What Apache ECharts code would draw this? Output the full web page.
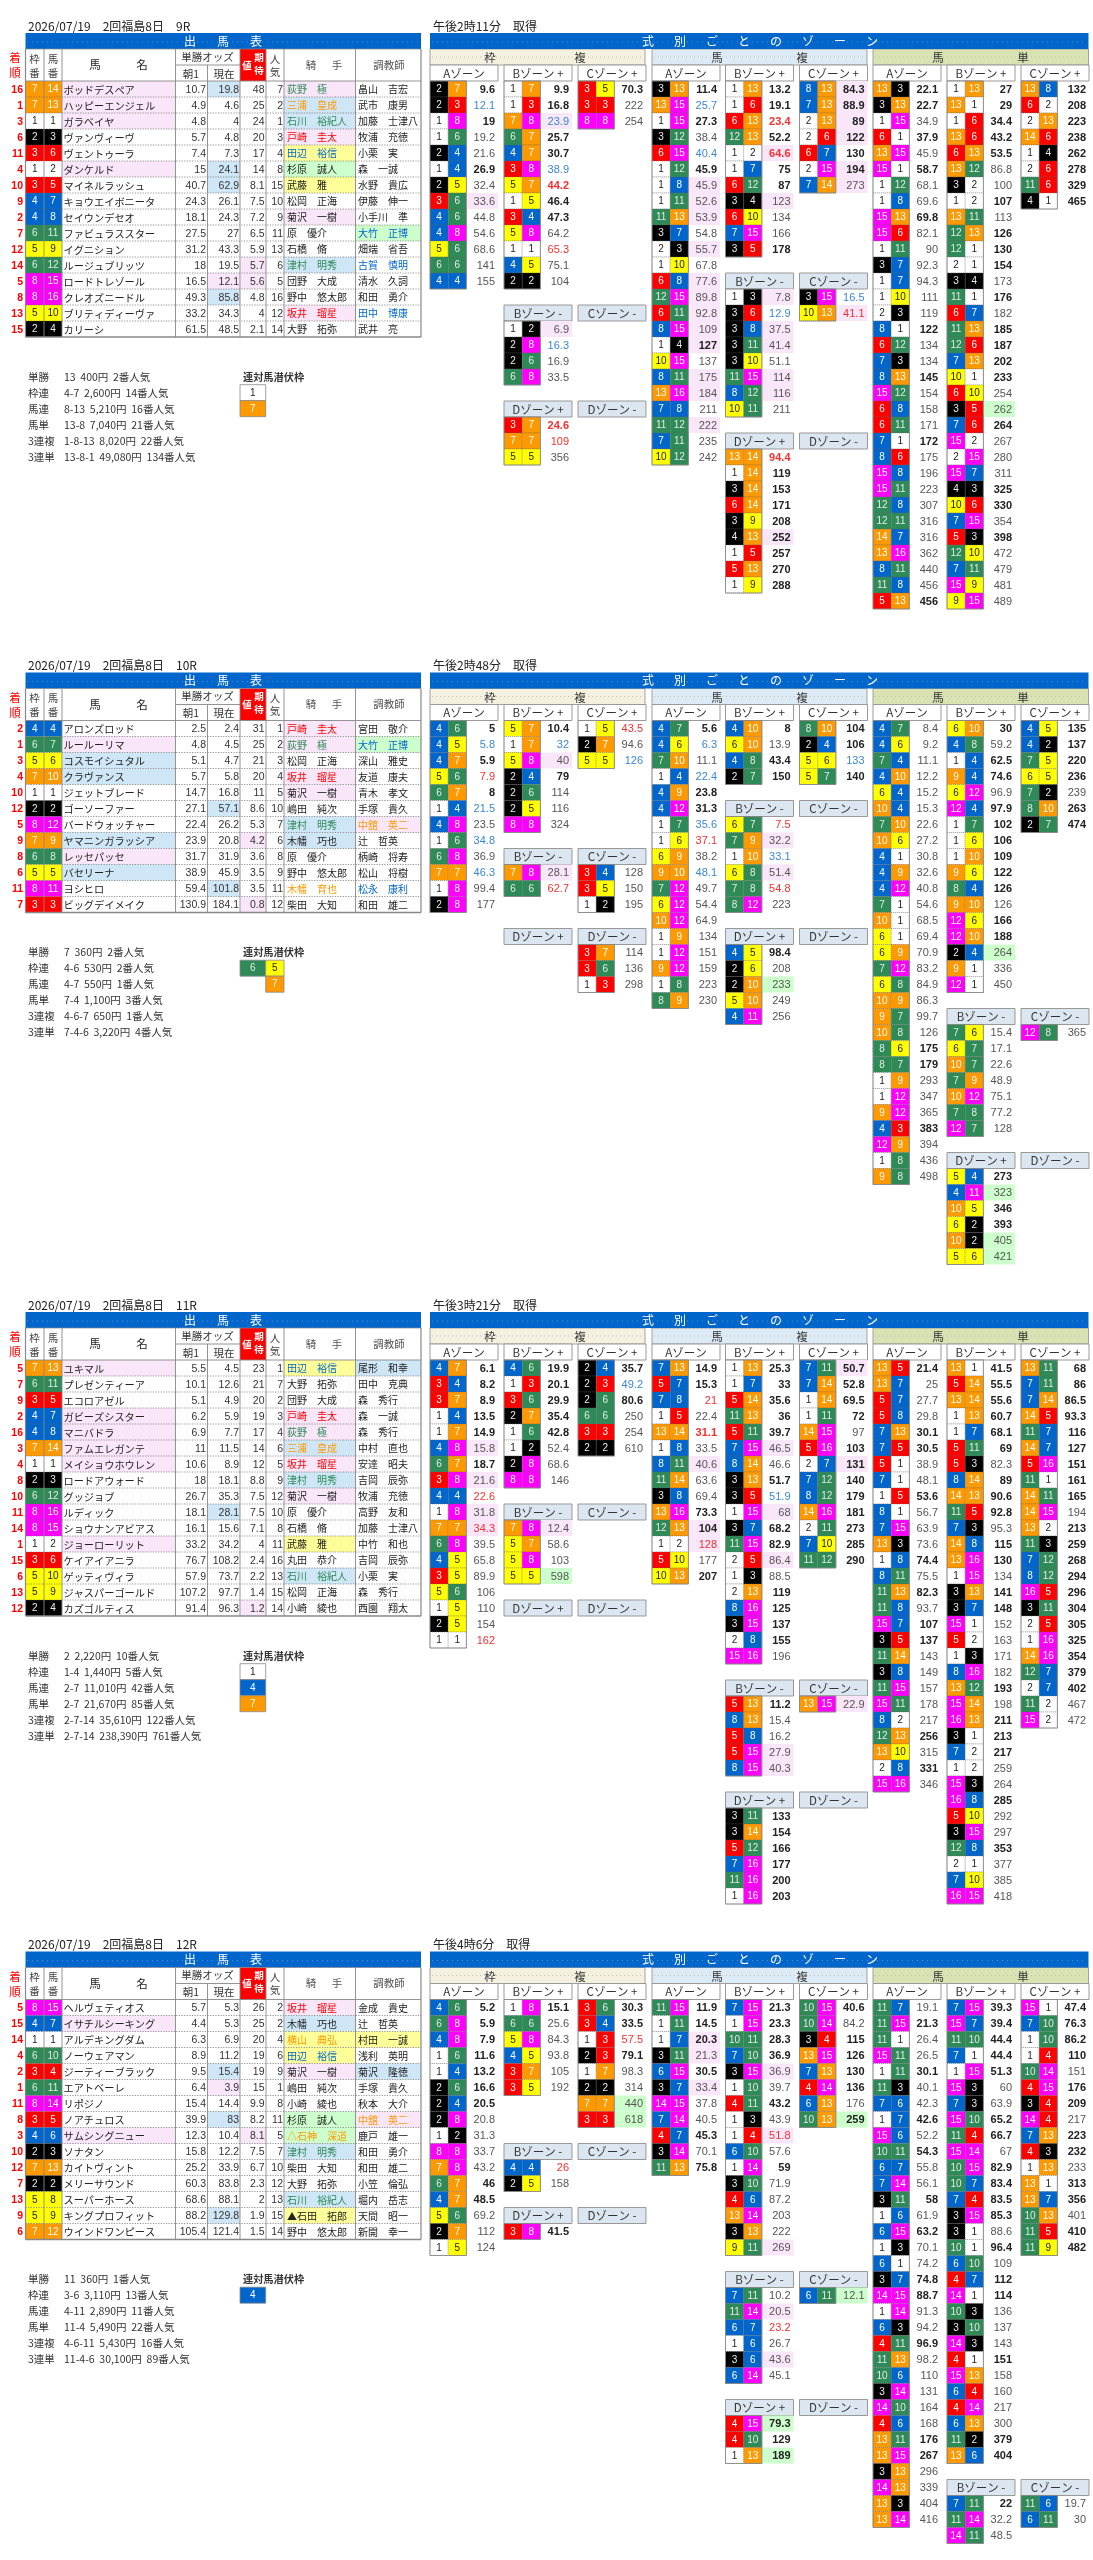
<!DOCTYPE html>
<html><head><meta charset="utf-8">
<style>html,body{margin:0;padding:0;background:#fff}#c{width:1093px;height:2560px;filter:blur(0.3px)}</style>
<script src="https://cdn.jsdelivr.net/npm/echarts@6/dist/echarts.min.js"></script>
</head><body><div id="c"></div>
<script>
// ---------- race titles ----------
const raceTitles=["2026/07/19　2回福島8日　9R","2026/07/19　2回福島8日　10R","2026/07/19　2回福島8日　11R","2026/07/19　2回福島8日　12R"];
const fetchTimes=["午後2時11分　取得","午後2時48分　取得","午後3時21分　取得","午後4時6分　取得"];
// ---------- entry tables: rank|frame|horse|name|nameClass|morning|now|nowClass|expect|expectClass|pop|jockey|jockeyInk|jockeyClass|trainer|trainerInk|trainerClass
const r1Rows=[
"16|7|14|ボッドデスペア|p|10.7|19.8|s|48||7|荻野 極|g|p|畠山 吉宏||",
"1|7|13|ハッピーエンジェル|p|4.9|4.6||25||2|三浦 皇成|o|s|武市 康男||",
"3|1|1|ガラベイヤ|p|4.8|4||24||1|石川 裕紀人|g|s|加藤 士津八||",
"6|2|3|ヴァンヴィーヴ||5.7|4.8||20||3|戸崎 圭太|r|p|牧浦 充徳||",
"11|3|6|ヴェントゥーラ||7.4|7.3||17||4|田辺 裕信|b|y|小栗 実||",
"4|1|2|ダンケルド|p|15|24.1|s|14||8|杉原 誠人||g|森 一誠||",
"10|3|5|マイネルラッシュ||40.7|62.9|s|8.1||15|武藤 雅||y|水野 貴広||",
"9|4|7|キョウエイボニータ||24.3|26.1||7.5||10|松岡 正海|||伊藤 伸一||",
"2|4|8|セイウンデセオ||18.1|24.3||7.2||9|菊沢 一樹||p|小手川 準||",
"7|6|11|ファビュラススター||27.5|27||6.5||11|原 優介|||大竹 正博|b|g",
"12|5|9|イグニション||31.2|43.3||5.9||13|石橋 脩|||畑端 省吾||",
"14|6|12|ルージュブリッツ||18|19.5||5.7|p|6|津村 明秀|g|s|古賀 慎明|b|",
"5|8|15|ロードトレゾール||16.5|12.1|p|5.6|p|5|団野 大成|||清水 久詞||",
"8|8|16|クレオズニードル||49.3|85.8|s|4.8||16|野中 悠太郎|||和田 勇介||",
"13|5|10|ブリティディーヴァ||33.2|34.3||4||12|坂井 瑠星|r|p|田中 博康|b|",
"15|2|4|カリーシ||61.5|48.5||2.1||14|大野 拓弥|||武井 亮||"];
const r2Rows=[
"2|4|4|アロンズロッド||2.5|2.4||31||1|戸崎 圭太|r|p|宮田 敬介||",
"1|6|7|ルールーリマ|p|4.8|4.5||25||2|荻野 極|g|p|大竹 正博|b|g",
"3|5|6|コスモイシュタル|s|5.1|4.7||21||3|松岡 正海|||深山 雅史||",
"4|7|10|クラヴァンス|s|5.7|5.8||20||4|坂井 瑠星|r|p|友道 康夫||",
"10|1|1|ジェットブレード||14.7|16.8||11||5|菊沢 一樹||p|青木 孝文||",
"12|2|2|ゴーソーファー||27.1|57.1|s|8.6||10|嶋田 純次|||手塚 貴久||",
"5|8|12|バードウォッチャー||22.4|26.2||5.3||7|津村 明秀|g|s|中舘 英二|o|p",
"9|7|9|ヤマニンガラッシア|s|23.9|20.8||4.2|p|6|木幡 巧也||s|辻 哲英||",
"8|6|8|レッセパッセ|p|31.7|31.9||3.6||8|原 優介|||柄崎 将寿||",
"6|5|5|バセリーナ|s|38.9|45.9||3.5||9|野中 悠太郎|||松山 将樹||",
"11|8|11|ヨシヒロ||59.4|101.8|s|3.5||11|木幡 育也|o||松永 康利|b|",
"7|3|3|ビッグデイメイク||130.9|184.1||0.8|p|12|柴田 大知|||和田 雄二||"];
const r3Rows=[
"5|7|13|ユキマル|p|5.5|4.5||23||1|田辺 裕信|b|y|尾形 和幸||s",
"7|6|11|プレゼンティーア||10.1|12.6||21||7|大野 拓弥|||田中 克典||",
"9|3|5|エコロアゼル||5.1|4.9||20||2|団野 大成|||森 秀行||",
"2|4|7|ガビーズシスター|p|6.2|5.9||19||3|戸崎 圭太|r|p|森 一誠||",
"16|4|8|マニバドラ|p|6.9|7.7||17||4|荻野 極|g|p|森 秀行||",
"3|7|14|ファムエレガンテ|p|11|11.5||14||6|三浦 皇成|o|s|中村 直也||",
"4|1|1|メイショウホウレン|p|10.6|8.9||12||5|坂井 瑠星|r|p|安達 昭夫||",
"8|2|3|ロードアウォード||18|18.1||8.8||9|津村 明秀|g|s|吉岡 辰弥||",
"10|6|12|グッジョブ||26.7|35.3||7.5||12|菊沢 一樹||p|牧浦 充徳||",
"11|8|16|ルディック||18.1|28.1|s|7.5||10|原 優介|||高野 友和||",
"14|8|15|ショウナンアビアス||16.1|15.6||7.1||8|石橋 脩|||加藤 士津八||",
"1|1|2|ジョーローリット|p|33.2|34.2||4||11|武藤 雅||y|中竹 和也||",
"15|3|6|ケイアイアニラ||76.7|108.2||2.4||16|丸田 恭介|||吉岡 辰弥||",
"6|5|10|ゲッティヴィラ||57.9|73.7||2.2||13|石川 裕紀人|g|s|小栗 実||",
"13|5|9|ジャスパーゴールド||107.2|97.7||1.4||15|松岡 正海|||森 秀行||",
"12|2|4|カズゴルティス||91.4|96.3||1.2|p|14|小崎 綾也|||西園 翔太||"];
const r4Rows=[
"5|8|15|ヘルヴェティオス||5.7|5.3||26||2|坂井 瑠星|r|p|金成 貴史||",
"15|4|7|イサチルシーキング|p|4.4|5.3||25||2|木幡 巧也||s|辻 哲英||",
"14|1|1|アルデキングダム||6.3|6.9||20||4|横山 典弘|o|y|村田 一誠||y",
"4|6|10|ノーウェアマン||8.9|11.2||19||6|田辺 裕信|b|y|浅利 英明||",
"2|3|4|ジーティーブラック||9.5|15.4|s|19||9|菊沢 一樹||p|菊沢 隆徳||s",
"1|6|11|エアトベーレ||6.4|3.9|p|15||1|嶋田 純次|||手塚 貴久||",
"11|8|14|リポジノ||15.4|14.4||9.9||8|小崎 綾也|||秋本 大介||",
"8|3|5|ノアチュロス||39.9|83|s|8.2||11|杉原 誠人||g|中舘 英二|o|p",
"3|4|6|サムシングニュー|p|12.3|10.4||8.1|p|5|△石神 深道|o|g|鹿戸 雄一||",
"10|2|3|ソナタン||15.8|12.2||7.5||7|津村 明秀|g|s|和田 勇介||",
"12|7|13|カイトヴィント||25.2|33.9||6.7||10|柴田 大知|||和田 雄二||",
"7|2|2|メリーサウンド||60.3|83.8||2.3||12|大野 拓弥|||小笠 倫弘||",
"13|5|8|スーパーホース||68.6|88.1||2||13|石川 裕紀人|g|s|堀内 岳志||",
"9|5|9|キングプロフィット||88.2|129.8|s|1.9||15|▲石田 拓郎||y|天間 昭一||",
"6|7|12|ウインドワンピース||105.4|121.4||1.5||14|野中 悠太郎|||新開 幸一||"];
// ---------- payouts ----------
const r1Pay=["単勝|13  400円  2番人気","枠連|4-7  2,600円  14番人気","馬連|8-13  5,210円  16番人気","馬単|13-8  7,040円  21番人気","3連複|1-8-13  8,020円  22番人気","3連単|13-8-1  49,080円  134番人気"];
const r2Pay=["単勝|7  360円  2番人気","枠連|4-6  530円  2番人気","馬連|4-7  550円  1番人気","馬単|7-4  1,100円  3番人気","3連複|4-6-7  650円  1番人気","3連単|7-4-6  3,220円  4番人気"];
const r3Pay=["単勝|2  2,220円  10番人気","枠連|1-4  1,440円  5番人気","馬連|2-7  11,010円  42番人気","馬単|2-7  21,670円  85番人気","3連複|2-7-14  35,610円  122番人気","3連単|2-7-14  238,390円  761番人気"];
const r4Pay=["単勝|11  360円  1番人気","枠連|3-6  3,110円  13番人気","馬連|4-11  2,890円  11番人気","馬単|11-4  5,490円  22番人気","3連複|4-6-11  5,430円  16番人気","3連単|11-4-6  30,100円  89番人気"];
// frames that may hide a placed horse: rows of [left, right]
const r1Hidden=[[1,0],[7,0]];
const r2Hidden=[[6,5],[0,7]];
const r3Hidden=[[1,0],[4,0],[7,0]];
const r4Hidden=[[4,0]];
// ---------- zones: "a-b value class"  b strong, l low, r alert, p/g marked
const none=[];
const r1FA=["2-7 9.6 b","2-3 12.1 l","1-8 19 b","1-6 19.2","2-4 21.6","1-4 26.9 b","2-5 32.4","3-6 33.6 p","4-6 44.8","4-8 54.6","5-6 68.6","6-6 141","4-4 155"];
const r1FB=["1-7 9.9 b","1-3 16.8 b","7-8 23.9 lp","6-7 25.7 b","4-7 30.7 b","3-8 38.9 l","5-7 44.2 rb","1-5 46.4 b","3-4 47.3 b","5-8 64.2","1-1 65.3 r","4-5 75.1","2-2 104"];
const r1FC=["3-5 70.3 b","3-3 222","8-8 254"];
const r1FBm=["1-2 6.9 p","2-8 16.3 l","2-6 16.9","6-8 33.5"];
const r1FDp=["3-7 24.6 rb","7-7 109 r","5-5 356"];
const r1QA=["3-13 11.4 b","13-15 25.7 l","1-15 27.3 b","3-12 38.4","6-15 40.4 l","1-12 45.9 b","1-8 45.9 p","1-11 52.6 p","11-13 53.9 p","3-7 54.8","2-3 55.7 p","1-10 67.8","6-8 77.6 p","12-15 89.8 p","6-11 92.8 p","8-15 109 p","1-4 127 bp","10-15 137","8-11 175 p","13-16 184 p","7-8 211","11-12 222 p","7-11 235","10-12 242"];
const r1QB=["1-13 13.2 b","1-6 19.1 b","6-13 23.4 rb","12-13 52.2 b","1-2 64.6 rbp","1-7 75 b","6-12 87 b","3-4 123 p","6-10 134","7-15 166","3-5 178 b"];
const r1QC=["8-13 84.3 bp","7-13 88.9 bp","2-13 89 bp","2-6 122 bp","6-7 130 b","2-15 194 bp","7-14 273 p"];
const r1QBm=["1-3 7.8 p","3-6 12.9 l","3-8 37.5 p","3-11 41.4 p","3-10 51.1","11-15 114 p","8-12 116 p","10-11 211"];
const r1QCm=["3-15 16.5 l","10-13 41.1 rp"];
const r1QDp=["13-14 94.4 rb","1-14 119 b","3-14 153 b","6-14 171 b","3-9 208 b","4-13 252 bp","1-5 257 b","5-13 270 b","1-9 288 b"];
const r1EA=["13-3 22.1 b","3-13 22.7 b","1-15 34.9","6-1 37.9 b","13-15 45.9","15-1 58.7 b","1-12 68.1","1-8 69.6","15-13 69.8 b","15-6 82.1","1-11 90","3-7 92.3","1-7 94.3","1-10 111","2-3 119","8-1 122 b","6-12 134","7-3 134","8-13 145 b","15-12 154","6-8 158","6-11 171","7-1 172 b","8-6 175","15-8 196","15-11 223","12-8 307","12-11 316","14-7 316","13-16 362","8-11 440","11-8 456","5-13 456 b"];
const r1EB=["1-13 27 b","13-1 29 b","1-6 34.4 b","13-6 43.2 b","6-13 53.5 b","13-12 86.8","3-2 100","1-2 107 b","13-11 113","12-13 126 b","12-1 130 b","2-1 154 b","3-4 173","11-1 176 b","6-7 182","11-13 185 b","12-6 187 b","7-13 202 b","10-1 233 b","6-10 254","3-5 262 g","7-6 264 b","15-2 267","2-15 280","15-7 311","4-3 325 b","10-6 330 b","7-15 354","5-3 398 b","12-10 472","7-11 479","15-9 481","9-15 489"];
const r1EC=["13-8 132 b","6-2 208 b","2-13 223 b","14-6 238 b","1-4 262 b","2-6 278 b","11-6 329 b","4-1 465 b"];

const r2FA=["4-6 5 b","4-5 5.8 l","4-7 5.9 b","5-6 7.9 r","6-7 8 b","1-4 21.5 l","4-8 23.5","1-6 34.8 l","6-8 36.9","7-7 46.3 l","1-8 99.4","2-8 177"];
const r2FB=["5-7 10.4 b","1-7 32 l","5-8 40 p","2-4 79 b","2-6 114","2-5 116","8-8 324"];
const r2FC=["1-5 43.5 r","2-7 94.6","5-5 126 l"];
const r2FBm=["7-8 28.1 p","6-6 62.7 r"];
const r2FCm=["3-4 128","3-5 150","1-2 195"];
const r2FDm=["3-7 114","3-6 136","1-3 298"];
const r2QA=["4-7 5.6 b","4-6 6.3 l","7-10 11.1","1-4 22.4 l","4-9 23.8 b","4-12 31.3 b","1-7 35.6 l","1-6 37.1 r","6-9 38.2","9-10 48.1 l","7-12 49.7","6-12 54.4","10-12 64.9","1-9 134","1-12 151","9-12 159","1-8 223","8-9 230"];
const r2QB=["4-10 8 b","6-10 13.9","4-8 43.4 b","2-7 150 b"];
const r2QC=["8-10 104 b","2-4 106 b","5-6 133 l","5-7 140 b"];
const r2QBm=["6-7 7.5 r","7-9 32.2 p","1-10 33.1 l","6-8 51.4 p","7-8 54.8 r","8-12 223"];
const r2QDp=["4-5 98.4 b","2-6 208","2-10 233 g","5-10 249","4-11 256"];
const r2EA=["4-7 8.4","4-6 9.2","7-4 11.1","4-10 12.2","6-4 15.2","10-4 15.3","7-10 22.6","10-6 27.2","4-1 30.8","4-9 32.6","4-12 40.8","7-1 54.6","10-1 68.5","6-1 69.4","6-9 70.9","7-12 83.2","6-8 84.9","10-9 86.3","9-7 99.7","10-8 126","8-6 175 b","8-7 179 b","1-9 293","1-12 347","9-12 365","4-3 383 b","12-9 394","1-8 436","9-8 498"];
const r2EB=["6-10 30 b","4-8 59.2","1-4 62.5 b","9-4 74.6 b","6-12 96.9","12-4 97.9 b","1-7 102 b","1-6 106 b","1-10 109 b","9-6 122 b","8-4 126 b","9-10 126","12-6 166 b","12-10 188 b","2-4 264 g","9-1 336","12-1 450"];
const r2EC=["4-5 135 b","4-2 137 b","7-5 220 b","6-5 236 b","7-2 239","8-10 263 b","2-7 474 b"];
const r2EBm=["7-6 15.4","6-7 17.1","10-7 22.6","7-9 48.9","10-12 75.1","7-8 77.2","12-7 128"];
const r2ECm=["12-8 365"];
const r2EDp=["5-4 273 b","4-11 323 g","10-5 346 b","6-2 393 b","10-2 405 g","5-6 421 g"];

const r3FA=["4-7 6.1 b","3-4 8.2 b","3-7 8.9 b","1-4 13.5 b","1-7 14.9 b","4-8 15.8 p","6-7 18.7 b","3-8 21.6 p","4-4 22.6 r","1-8 31.8 p","7-7 34.3 rp","6-8 39.5","4-5 65.8","3-5 89.9","5-6 106","1-5 110","2-5 154","1-1 162 r"];
const r3FB=["4-6 19.9 b","1-3 20.1 b","3-6 29.9 b","2-7 35.4 b","1-6 42.8 b","1-2 52.4","2-8 68.6","8-8 146"];
const r3FC=["2-4 35.7 b","2-3 49.2 l","2-6 80.6 b","6-6 250","3-3 254","2-2 610"];
const r3FBm=["7-8 12.4 p","5-7 58.6","5-8 103","5-5 598 g"];
const r3QA=["7-13 14.9 b","5-7 15.3 b","7-8 21 r","1-5 22.4","13-14 31.1 rb","1-8 33.5","8-11 40.6 p","11-14 63.6","3-8 69.4","13-16 73.3 b","12-13 104 bp","1-2 128 rp","5-10 177","10-13 207 b"];
const r3QB=["1-13 25.3 b","1-7 33 b","5-14 35.6 b","11-13 36 b","5-11 39.7 b","7-15 46.5 p","8-14 46.6","3-13 51.7 b","3-5 51.9 l","1-15 68 p","3-7 68.2 b","11-15 82.9 b","2-5 86.4 p","1-3 88.5","2-13 119 b","8-16 125 b","3-15 137 b","2-8 155 b","15-16 196"];
const r3QC=["7-11 50.7 bp","7-14 52.8 b","1-14 69.5 b","1-11 72 b","14-15 97","5-16 103 b","2-7 131 bp","7-12 140 b","8-12 179 b","14-16 181 b","2-11 273 b","7-10 285 b","11-12 290 b"];
const r3QBm=["5-13 11.2 b","8-13 15.4","5-8 16.2","5-15 27.9 p","8-15 40.3 p"];
const r3QCm=["13-15 22.9 p"];
const r3QDp=["3-11 133 b","3-14 154 b","5-12 166 b","7-16 177 b","11-16 200 b","1-16 203 b"];
const r3EA=["13-5 21.4 b","13-7 25","5-7 27.7","5-8 29.8","7-13 30.1 b","7-5 30.5 b","5-1 38.9","7-1 48.1","1-5 53.6 b","8-1 56.7","7-15 63.9","13-3 73.6","1-8 74.4 b","8-11 75.5","11-13 82.3 b","11-8 93.7","15-7 107 b","3-5 137 b","11-14 143","3-8 149","11-15 157","15-11 178","8-2 217","12-13 256 b","13-10 315","2-8 331 b","15-16 346"];
const r3EB=["13-1 41.5 b","5-14 55.5 b","13-14 55.6 b","1-13 60.7 b","1-7 68.1 b","5-11 69 b","5-3 82.3","8-14 89 b","14-13 90.6 b","11-5 92.8 b","7-3 95.3","14-8 115 b","13-16 130 b","1-15 134","3-13 141 b","3-7 148 b","15-1 152","5-2 163","1-3 171","8-16 182","13-12 193 b","15-14 198","16-13 211 b","3-1 213 b","7-2 217 b","1-2 259","15-3 264","16-8 285 b","5-10 292","3-15 297","12-8 353 b","2-1 377","7-10 385","16-15 418"];
const r3EC=["13-11 68 b","7-11 86 b","7-14 86.5 b","14-5 93.3 b","11-7 116 b","14-7 127 b","5-16 151 b","11-1 161 b","14-11 165 b","14-15 194","13-2 213 b","11-3 259 b","7-12 268 b","8-12 294 b","16-5 296 b","3-11 304 b","2-5 305 b","1-16 325 b","14-16 354 b","12-7 379 b","2-7 402 b","11-2 467","15-2 472"];

const r4FA=["4-6 5.2 b","6-8 5.9 b","4-8 7.9 b","1-6 11.6 b","1-4 13.2 b","2-6 16.6 b","2-4 20.5 b","2-8 20.8","1-2 31.3","8-8 33.7","7-8 43.2","6-7 46 b","4-7 48.5 b","5-6 69.2","2-7 112","1-5 124"];
const r4FB=["1-8 15.1 b","6-6 25.6","5-8 84.3","4-5 93.8","3-7 105","3-5 192"];
const r4FC=["3-6 30.3 b","3-4 33.5 b","1-3 57.5 r","2-3 79.1 b","1-7 98.3","2-2 314","7-7 440 g","3-3 618 g"];
const r4FBm=["4-4 26 r","2-5 158"];
const r4FDp=["3-8 41.5 b"];
const r4QA=["11-15 11.9 b","1-11 14.5 b","1-7 20.3 bp","3-11 21.3 p","6-15 30.5 b","3-7 33.4 p","14-15 37.8","7-14 40.5","4-7 45.3 b","3-14 70.1","11-13 75.8 b"];
const r4QB=["7-15 21.3 b","1-15 23.3 b","10-11 28.3 b","7-10 36.9 b","3-15 36.9 p","1-10 39.7","4-11 43.2 b","1-3 43.9","1-4 51.8 rp","6-10 57.6","1-14 59 b","3-10 71.9","4-6 87.2","13-14 203","3-13 222","9-11 269 p"];
const r4QC=["10-15 40.6 b","10-14 84.2","3-4 115 b","13-15 126 b","7-13 130 b","4-14 136 b","6-13 176","10-13 259 bg"];
const r4QBm=["7-11 10.2","11-14 20.5 p","6-7 23.2 r","1-6 26.7","3-6 43.6 p","6-14 45.1"];
const r4QCm=["6-11 12.1 g"];
const r4QDp=["4-15 79.3 bg","4-10 129 b","1-13 189 bg"];
const r4EA=["11-7 19.1","11-15 21.3 b","11-1 26.4","15-11 26.5","1-11 30.1 b","11-3 40.1","7-6 42.3","1-7 42.6 b","15-6 52.2","10-11 54.3 b","6-7 55.8","7-14 56.1","3-11 58 b","1-6 61.9","6-15 63.2 b","1-3 70.1","6-1 74.2","3-7 74.8 b","14-15 88.7 b","1-14 91.3","6-3 94.2","4-11 96.9 b","11-13 98.2","10-6 110","3-14 131","14-10 164","4-6 168","13-11 176 b","13-15 267 b","3-13 296","14-13 339","13-3 404","13-14 416"];
const r4EB=["7-15 39.3 b","15-7 39.4 b","11-10 44.4 b","7-1 44.4 b","1-15 51.3 b","15-3 60","7-3 63.9","15-10 65.2 b","11-4 66.7 b","15-14 67","10-15 82.9 b","10-7 83.4 b","7-4 83.5 b","3-15 85.3 b","3-1 88.6","10-1 96.4 b","6-10 109","4-7 112 b","14-1 114 b","10-3 136","3-10 137","14-3 143","4-1 151 b","15-13 158","6-4 160","4-14 217","6-13 300","11-2 379 b","13-6 404 b"];
const r4EC=["15-1 47.4 b","7-10 76.3 b","1-10 86.2 b","1-4 110 b","10-14 151","4-15 176 b","3-4 209 b","14-4 217","7-13 223 b","4-3 232 b","1-13 233","13-1 313 b","13-7 356 b","10-13 401","11-5 410 b","11-9 482 b"];
const r4EBm=["7-11 22 b","11-14 32.2","14-11 48.5"];
const r4ECm=["11-6 19.7","6-11 30"];

// zone bundles: A, B+, C+, B-, C-, D+, D-
const races=[
 {rows:r1Rows,pay:r1Pay,hid:r1Hidden,z:[[r1FA,r1FB,r1FC,r1FBm,none,r1FDp,none],[r1QA,r1QB,r1QC,r1QBm,r1QCm,r1QDp,none],[r1EA,r1EB,r1EC,none,none,none,none]]},
 {rows:r2Rows,pay:r2Pay,hid:r2Hidden,z:[[r2FA,r2FB,r2FC,r2FBm,r2FCm,none,r2FDm],[r2QA,r2QB,r2QC,r2QBm,none,r2QDp,none],[r2EA,r2EB,r2EC,r2EBm,r2ECm,r2EDp,none]]},
 {rows:r3Rows,pay:r3Pay,hid:r3Hidden,z:[[r3FA,r3FB,r3FC,r3FBm,none,none,none],[r3QA,r3QB,r3QC,r3QBm,r3QCm,r3QDp,none],[r3EA,r3EB,r3EC,none,none,none,none]]},
 {rows:r4Rows,pay:r4Pay,hid:r4Hidden,z:[[r4FA,r4FB,r4FC,r4FBm,none,r4FDp,none],[r4QA,r4QB,r4QC,r4QBm,r4QCm,r4QDp,none],[r4EA,r4EB,r4EC,r4EBm,r4ECm,none,none]]}
];

// ---------- styling and layout ----------
const FRAME={1:['#ffffff','#222'],2:['#000000','#eee'],3:['#ff0000','#fff'],4:['#0066cc','#fff'],5:['#ffff00','#222'],6:['#2e8b57','#e8e8e8'],7:['#ff9900','#fff'],8:['#ff00ff','#fff'],0:['#fff','#fff']};
const BG={p:'#f9e6f8',s:'#cfe6f7',y:'#ffff99',g:'#ccffcc'};
const INK={g:'#2e8b57',o:'#ff9900',r:'#ff0000',b:'#0066cc','':'#222'};
const JP='"Noto Sans CJK JP"',NUM='"Liberation Sans"';
const rects=[],lines=[],texts=[];
const R=(x,y,w,h,fill,stroke,dash,lw)=>rects.push({v:[x,y,w,h],fill,stroke,dash,lw});
const L=(x1,y1,x2,y2,c,dash,lw)=>lines.push({v:[x1,y1,x2,y2],c,dash,lw});
const T=(x,y,s,o)=>texts.push(Object.assign({v:[x,y],s,align:'left',c:'#222',font:'10.5px '+JP},o||{}));
const STEP=639.5, RH=16, R0=81, MAXR=33;
const XC=[25.5,44,62,175.5,207.5,240,266,284,355.5,421];
const wide=s=>s.replace(' ','\u3000');

function drawTable(race,i,oy){
 const y=v=>v+oy;
 T(28,y(26),raceTitles[i],{font:'12px '+JP,c:'#222'});
 T(433,y(26),fetchTimes[i],{font:'12px '+JP,c:'#222'});
 R(25.5,y(33),395.5,16,'#0066cc');
 L(27,y(42),420,y(42),'#5a8cc4',[1,4],1);
 ['出','馬','表'].forEach((c,k)=>T(190+33*k,y(41),c,{font:'12px '+JP,c:'#fff',align:'center'}));
 R(430,y(33),658.5,16,'#0066cc');
 L(432,y(42),1087,y(42),'#5a8cc4',[1,4],1);
 '式別ごとのゾーン'.split('').forEach((c,k)=>T(648+32*k,y(41),c,{font:'12px '+JP,c:'#fff',align:'center'}));
 T(15,y(58),'着',{c:'#f00',align:'center',font:'11.5px '+JP});T(15,y(73),'順',{c:'#f00',align:'center',font:'11.5px '+JP});
 T(34.5,y(59),'枠',{align:'center',c:'#444'});T(34.5,y(73),'番',{align:'center',c:'#444'});
 T(53,y(59),'馬',{align:'center',c:'#444'});T(53,y(73),'番',{align:'center',c:'#444'});
 T(95,y(65),'馬',{align:'center',font:'11.5px '+JP});T(142,y(65),'名',{align:'center',font:'11.5px '+JP});
 T(207.5,y(57),'単勝オッズ',{align:'center',c:'#333'});
 T(191,y(74),'朝1',{align:'center',c:'#333'});T(224,y(74),'現在',{align:'center',c:'#333'});
 R(240,y(49),26,32,'#ff0000');
 T(259,y(57),'期',{align:'center',c:'#fff',font:'bold 9.5px '+JP});T(259,y(70),'待',{align:'center',c:'#fff',font:'bold 9.5px '+JP});
 T(247,y(65),'値',{align:'center',c:'#fff',font:'bold 9.5px '+JP});
 T(275,y(59),'人',{align:'center',c:'#444'});T(275,y(72),'気',{align:'center',c:'#444'});
 T(311,y(65),'騎',{align:'center',c:'#555'});T(337,y(65),'手',{align:'center',c:'#555'});
 T(389,y(65),'調教師',{align:'center',c:'#555'});
 const rows=race.rows.map(s=>s.split('|'));
 const n=rows.length;
 rows.forEach((r,k)=>{
  const ry=y(R0+k*RH), cy=ry+8.7;
  const [rank,fr,ho,name,nc,am,now,ncl,ex,ecl,pop,jo,jin,jbg,tr,tin,tbg]=r;
  const f=FRAME[fr];
  R(XC[0],ry,18.5,RH,f[0]);R(XC[1],ry,18,RH,f[0]);
  if(nc)R(XC[2]+.5,ry,XC[3]-XC[2]-.5,RH,BG[nc]);
  if(ncl)R(XC[4]+.5,ry,XC[5]-XC[4]-.5,RH,BG[ncl]);
  if(ecl)R(XC[5]+.5,ry,XC[6]-XC[5]-.5,RH,BG[ecl]);
  if(jbg)R(XC[7]+.5,ry,XC[8]-XC[7]-.5,RH,BG[jbg]);
  if(tbg)R(XC[8]+.5,ry,XC[9]-XC[8]-.5,RH,BG[tbg]);
  T(23,cy,rank,{align:'right',c:'#f00',font:'bold 10.5px '+NUM});
  T(34.7,cy,fr,{align:'center',c:f[1],font:'10px '+NUM});
  T(53,cy,ho,{align:'center',c:f[1],font:'10px '+NUM});
  T(63.5,cy,name,{font:'10.2px '+JP,c:'#222'});
  T(206,cy,am,{align:'right',c:'#333',font:'10.5px '+NUM});
  T(239,cy,now,{align:'right',c:'#333',font:'10.5px '+NUM});
  T(264.5,cy,ex,{align:'right',c:'#333',font:'10.5px '+NUM});
  T(283,cy,pop,{align:'right',c:'#333',font:'10.5px '+NUM});
  T(287,cy,wide(jo),{c:INK[jin||''],font:'10px '+JP});
  T(358,cy,wide(tr),{c:INK[tin||''],font:'10px '+JP});
  if(k<n-1)L(XC[0],ry+RH,XC[9],ry+RH,'#666',[1.2,1.4],0.7);
 });
 const bot=y(R0+n*RH);
 L(XC[0],y(81),XC[9],y(81),'#888',null,0.9);
 L(XC[3],y(65),XC[5],y(65),'#888',null,0.9);
 [0,1,2,3,5,6,7,8,9].forEach(c=>L(XC[c],y(49),XC[c],bot,'#888',null,c==0||c==9?1.2:0.9));
 L(XC[4],y(65),XC[4],bot,'#888',null,0.9);
 L(XC[0],bot,XC[9],bot,'#888',null,1.3);
 L(XC[0],y(49),XC[9],y(49),'#888',null,0.7);
 const py=y(R0+n*RH-8+47.7);
 race.pay.forEach((p,k)=>{const [a,b]=p.split('|');
  T(28,py+16*k,a,{c:'#333'});T(64,py+16*k,b,{c:'#333',font:'10.5px '+JP});});
 T(243,py,'連対馬潜伏枠',{c:'#333',font:'bold 10.2px '+JP});
 race.hid.forEach((h,k)=>{const cy=py+16*(k+1)-8;
  if(h[0]){R(240,cy,25.7,16,FRAME[h[0]][0],'#888',null,0.8);T(252.8,cy+8.5,String(h[0]),{align:'center',c:FRAME[h[0]][1],font:'10px '+NUM});}
  if(h[1]){R(265.7,cy,18.3,16,FRAME[h[1]][0],'#888',null,0.8);T(274.8,cy+8.5,String(h[1]),{align:'center',c:FRAME[h[1]][1],font:'10px '+NUM});}
 });
}
const COLX=[430,504,578,652,725.5,799.5,873,947,1021];
const CW=18.2;
function parseEntry(s){const p=s.split(' ');const [a,b]=p[0].split('-');return {a:+a,b:+b,val:p[1],cls:p[2]||''};}
function zoneHead(x,ry,label,minus){
 R(x,ry,68,16,minus?'#dce6f1':'#ffffff','#999',null,1);
 T(x+34,ry+8.5,label,{align:'center',font:'11.5px '+JP,c:'#333'});
}
function drawList(list,x,top,col){
 list.forEach((s,k)=>{
  const e=parseEntry(s), ry=top+k*RH, cy=ry+8.6;
  const fa=FRAME[col(e.a)], fb=FRAME[col(e.b)];
  R(x,ry,CW,RH,fa[0],'#666',[1,1],0.5);R(x+CW,ry,CW,RH,fb[0],'#666',[1,1],0.5);
  T(x+CW/2,cy,String(e.a),{align:'center',c:fa[1],font:'10px '+NUM});
  T(x+CW*1.5,cy,String(e.b),{align:'center',c:fb[1],font:'10px '+NUM});
  if(e.cls.includes('p'))R(x+CW*2,ry,31.6,RH,BG.p);
  if(e.cls.includes('g'))R(x+CW*2,ry,31.6,RH,BG.g);
  let c='#555',w='';
  if(e.cls.includes('b')){c='#222';w='bold ';}
  if(e.cls.includes('l'))c='#3b87d4';
  if(e.cls.includes('r'))c='#f53030';
  T(x+65,cy,e.val,{align:'right',c,font:w+'11px '+NUM});
 });
 if(list.length)R(x,top,CW*2,list.length*RH,'transparent','#888',null,0.9);
}
function drawZones(race,oy){
 const y=v=>v+oy;
 const hw={};race.rows.forEach(s=>{const r=s.split('|');hw[+r[2]]=+r[1];});
 const bands=[[430,215,'#f5f1e1','枠','複',490,580],[652,215,'#dcebf6','馬','複',717,802],[873,215.5,'#d9e2b3','馬','単',938,1023]];
 bands.forEach(b=>{R(b[0],y(49),b[1],16,b[2],'#999',null,0.9);
  L(b[0]+2,y(57),b[0]+b[1]-2,y(57),'#b8b8a8',[1,3],0.8);
  T(b[5],y(58),b[3],{align:'center',font:'11.5px '+JP,c:'#333'});T(b[6],y(58),b[4],{align:'center',font:'11.5px '+JP,c:'#333'});});
 race.z.forEach((zz,t)=>{
  const col=t==0?(n=>n):(n=>hw[n]||1);
  const xa=COLX[t*3],xb=COLX[t*3+1],xc=COLX[t*3+2];
  const [A,Bp,Cp,Bm,Cm,Dp,Dm]=zz;
  const top=r=>y(R0+r*RH);
  zoneHead(xa,y(65),'Aゾーン');zoneHead(xb,y(65),'Bゾーン +');zoneHead(xc,y(65),'Cゾーン +');
  drawList(A,xa,top(0),col);drawList(Bp,xb,top(0),col);drawList(Cp,xc,top(0),col);
  let r=Math.max(Bp.length,Cp.length)+1;
  if(r>MAXR)return;
  zoneHead(xb,top(r),'Bゾーン -',true);zoneHead(xc,top(r),'Cゾーン -',true);
  drawList(Bm,xb,top(r+1),col);drawList(Cm,xc,top(r+1),col);
  r=r+1+Math.max(Bm.length,Cm.length)+1;
  if(r>MAXR)return;
  zoneHead(xb,top(r),'Dゾーン +',true);zoneHead(xc,top(r),'Dゾーン -',true);
  drawList(Dp,xb,top(r+1),col);drawList(Dm,xc,top(r+1),col);
 });
}
races.forEach((r,i)=>{const oy=i*STEP;drawZones(r,oy);drawTable(r,i,oy);});

const chart=echarts.init(document.getElementById('c'),null,{renderer:'canvas',width:1093,height:2560});
chart.setOption({
 animation:false,
 grid:{left:0,right:0,top:0,bottom:0},
 xAxis:{type:'value',min:0,max:1093,show:false},
 yAxis:{type:'value',min:0,max:2560,inverse:true,show:false},
 series:[
  {type:'custom',silent:true,clip:false,z:1,coordinateSystem:'cartesian2d',data:rects.map(d=>d.v),
   encode:{x:0,y:1},
   renderItem:(p,api)=>{const d=rects[p.dataIndex],a=api.coord([d.v[0],d.v[1]]),b=api.coord([d.v[0]+d.v[2],d.v[1]+d.v[3]]);
    return {type:'rect',shape:{x:a[0],y:a[1],width:b[0]-a[0],height:b[1]-a[1]},style:{fill:d.fill,stroke:d.stroke||null,lineWidth:d.lw||1,lineDash:d.dash||null}};}},
  {type:'custom',silent:true,clip:false,z:2,data:lines.map(d=>d.v),encode:{x:0,y:1},
   renderItem:(p,api)=>{const d=lines[p.dataIndex],a=api.coord([d.v[0],d.v[1]]),b=api.coord([d.v[2],d.v[3]]);
    return {type:'line',shape:{x1:a[0],y1:a[1],x2:b[0],y2:b[1]},style:{stroke:d.c,lineWidth:d.lw||1,lineDash:d.dash||null}};}},
  {type:'custom',silent:true,clip:false,z:3,data:texts.map(d=>d.v),encode:{x:0,y:1},
   renderItem:(p,api)=>{const d=texts[p.dataIndex],a=api.coord(d.v);
    return {type:'text',style:{x:a[0],y:a[1],text:d.s,fill:d.c,font:d.font,align:d.align,verticalAlign:'middle'}};}}
 ]
});
</script></body></html>
